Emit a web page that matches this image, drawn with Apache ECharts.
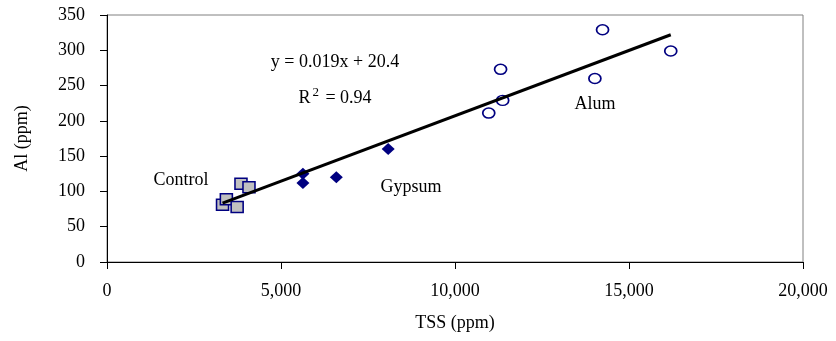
<!DOCTYPE html>
<html>
<head>
<meta charset="utf-8">
<script src="https://cdn.jsdelivr.net/npm/echarts@6/dist/echarts.min.js"></script>
<style>
  html, body { margin: 0; padding: 0; background: #fff; }
  #chart { width: 836px; height: 341px; }
</style>
</head>
<body>
<div id="chart"></div>
<script>
// values
const controlTss = [3320, 3430, 3740, 3850, 4080];
const controlAl = [81, 89, 78, 111, 106];

const gypsumTss = [5630, 5630, 6590, 8080];
const gypsumAl = [125, 112, 120, 160];

const alumTss = [10970, 11310, 11370, 14020, 14240, 16200];
const alumAl = [211, 273, 229, 260, 329, 299];

// fitted line end points (y = 0.019x + 20.4)
const trendTss = [3320, 16200];
const trendAl = [83.5, 322];

const xTicks = [0, 5000, 10000, 15000, 20000];
const yTicks = [0, 50, 100, 150, 200, 250, 300, 350];

const pairs = (xs, ys) => xs.map((x, i) => [x, ys[i]]);

const chart = echarts.init(document.getElementById('chart'));
const font = 'Liberation Serif, Times New Roman, serif';
const navy = '#000080';

// text labels placed by their centre
const note = (text, x, y, extra) => ({
  type: 'text', x: x, y: y,
  style: Object.assign({ text: text, font: '18px ' + font, fill: '#000', align: 'center', verticalAlign: 'middle' }, extra || {})
});

chart.setOption({
  animation: false,
  backgroundColor: '#fff',
  grid: { left: 107, right: 33, top: 15, bottom: 79, show: true, borderColor: '#808080', borderWidth: 1 },
  xAxis: {
    type: 'value',
    min: xTicks[0],
    max: xTicks[xTicks.length - 1],
    interval: 5000,
    name: 'TSS (ppm)',
    nameLocation: 'middle',
    nameGap: 52,
    nameTextStyle: { fontFamily: font, fontSize: 18, color: '#000' },
    axisLine: { show: true, lineStyle: { color: '#000', width: 1 } },
    axisTick: { show: true, length: 7, lineStyle: { color: '#000' } },
    axisLabel: {
      fontFamily: font, fontSize: 18, color: '#000', margin: 20,
      formatter: v => v.toLocaleString('en-US')
    },
    splitLine: { show: false }
  },
  yAxis: {
    type: 'value',
    min: yTicks[0],
    max: yTicks[yTicks.length - 1],
    interval: 50,
    name: 'Al (ppm)',
    nameLocation: 'middle',
    nameGap: 76,
    nameTextStyle: { fontFamily: font, fontSize: 18, color: '#000' },
    axisLine: { show: true, lineStyle: { color: '#000', width: 1 } },
    axisTick: { show: true, length: 7, lineStyle: { color: '#000' } },
    axisLabel: { fontFamily: font, fontSize: 18, color: '#000', margin: 22 },
    splitLine: { show: false }
  },
  series: [
    {
      name: 'Control',
      type: 'scatter',
      symbol: 'rect',
      symbolSize: [12, 11],
      itemStyle: { color: '#c0c0c0', borderColor: navy, borderWidth: 1.5, opacity: 1 },
      data: pairs(controlTss, controlAl),
      z: 2
    },
    {
      name: 'Gypsum',
      type: 'scatter',
      symbol: 'diamond',
      symbolSize: [13, 12],
      itemStyle: { color: navy, opacity: 1 },
      data: pairs(gypsumTss, gypsumAl),
      z: 2
    },
    {
      name: 'Alum',
      type: 'scatter',
      symbol: 'circle',
      symbolSize: [12, 10],
      itemStyle: { color: '#fff', borderColor: navy, borderWidth: 1.6, opacity: 1 },
      data: pairs(alumTss, alumAl),
      z: 2
    },
    {
      name: 'Trend',
      type: 'line',
      data: pairs(trendTss, trendAl),
      symbol: 'none',
      lineStyle: { color: '#000', width: 3 },
      z: 3
    }
  ],
  graphic: [
    note('y = 0.019x + 20.4', 335, 62),
    note('R{sup|2} = 0.94', 335, 98, {
      rich: { sup: { font: '13px ' + font, fill: '#000', padding: [0, 2, 10, 2] } }
    }),
    note('Control', 181, 180),
    note('Gypsum', 411, 187),
    note('Alum', 595, 104)
  ]
});
</script>
</body>
</html>
